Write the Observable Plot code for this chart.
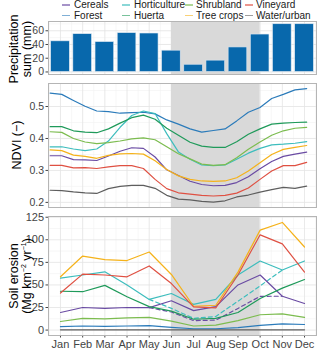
<!DOCTYPE html>
<html>
<head>
<meta charset="utf-8">
<script src="https://cdn.jsdelivr.net/npm/d3@7"></script>
<script src="https://cdn.jsdelivr.net/npm/@observablehq/plot@0.6"></script>
<style>
  body { margin:0; background:#fff; }
  #root { position:relative; width:320px; height:351px; font-family:"Liberation Sans", Arial, sans-serif; overflow:hidden; }
  .svgwrap { position:absolute; left:0; }
  .ytitle { position:absolute; transform:translate(-50%,-50%) rotate(-90deg); white-space:nowrap; text-align:center; font-size:12.5px; line-height:13px; color:#000; }
  .leg { position:absolute; font-size:10px; color:#1a1a1a; white-space:nowrap; line-height:10px; }
  .key { position:absolute; height:1.6px; width:8px; opacity:0.6; }
</style>
</head>
<body>
<div id="root"></div>
<script>
// ---------- data ----------
const months = ["Jan","Feb","Mar","Apr","May","Jun","Jul","Aug","Sep","Oct","Nov","Dec"];
const monthIdx = [1,2,3,4,5,6,7,8,9,10,11,12];
const halfMonths = [0.5,1.5,2.5,3.5,4.5,5.5,6.5,7.5,8.5,9.5,10.5,11.5,12.5];
const precipitation = [44.6,55,43.5,56.5,56,31,10.5,16.5,35.7,54.5,69.5,69.5];
const precipTicks = [0,20,40,60];
const precipMinor = [10,30,50,70];

const landCover = ["Cereals","Forest","Horticulture","Huerta","Shrubland","Tree crops","Vineyard","Water/urban"];
const colors = ["#6a4ba3","#2b7bba","#3dbdbd","#1f9a5a","#7cbc4f","#f5b21a","#df5042","#5e5e5e"];

// NDVI 16-day composites (day of year)
const ndviDoy = [1,17,33,49,65,81,97,113,129,145,161,177,193,209,225,241,257,273,289,305,321,337,353];
const ndviCereals      = [0.346,0.346,0.334,0.333,0.331,0.345,0.360,0.371,0.369,0.342,0.302,0.284,0.266,0.256,0.252,0.253,0.262,0.280,0.305,0.328,0.344,0.351,0.357];
const ndviForest       = [0.542,0.538,0.519,0.501,0.486,0.484,0.479,0.481,0.482,0.477,0.458,0.445,0.430,0.420,0.425,0.430,0.455,0.482,0.497,0.525,0.538,0.552,0.556];
const ndviHorticulture = [0.374,0.374,0.367,0.362,0.367,0.392,0.435,0.472,0.486,0.478,0.415,0.358,0.335,0.317,0.315,0.317,0.335,0.354,0.369,0.380,0.382,0.385,0.390];
const ndviHuerta       = [0.437,0.437,0.424,0.420,0.418,0.430,0.448,0.465,0.473,0.460,0.432,0.410,0.388,0.376,0.372,0.372,0.390,0.413,0.430,0.445,0.448,0.450,0.451];
const ndviShrubland    = [0.421,0.419,0.400,0.389,0.384,0.387,0.392,0.399,0.402,0.396,0.374,0.352,0.336,0.320,0.316,0.318,0.340,0.366,0.389,0.410,0.424,0.432,0.435];
const ndviTreeCrops    = [0.364,0.362,0.348,0.344,0.338,0.347,0.352,0.353,0.351,0.330,0.303,0.283,0.272,0.267,0.266,0.267,0.277,0.298,0.324,0.350,0.366,0.372,0.378];
const ndviVineyard     = [0.316,0.316,0.308,0.309,0.306,0.311,0.315,0.315,0.306,0.272,0.243,0.230,0.226,0.222,0.220,0.222,0.229,0.245,0.272,0.298,0.315,0.315,0.325];
const ndviWaterUrban   = [0.238,0.237,0.233,0.230,0.228,0.243,0.250,0.253,0.253,0.244,0.222,0.210,0.208,0.203,0.201,0.205,0.217,0.223,0.232,0.240,0.247,0.244,0.251];
const ndviTicks = [0.2,0.3,0.4,0.5];
const ndviMinor = [0.25,0.35,0.45,0.55];

const erosionCereals      = [19.5,25,24,25,24.8,32.5,21.5,26,50,61,37.5,29.5];
const erosionForest       = [3.8,4.5,4.2,4.5,5,3,1.5,1.5,2.8,5.2,6.8,6.2];
const erosionHorticulture = [57.5,61,64.5,50,34,40.5,28.5,34,61,76.5,66.5,76.5];
const erosionHuerta       = [43,42.5,49.5,37,26,21,12,13,19.5,35,46.5,56];
const erosionShrubland    = [9.5,13,12.5,13.5,14,10,4.5,5.5,10.5,17,18,14];
const erosionTreeCrops    = [59,82,78,77,86.5,61.6,26.4,27.5,64.2,110.7,119.2,92];
const erosionVineyard     = [41,62,61,59,71,51.5,25.7,24.5,61,105.5,95.5,64.2];
const erosionWaterUrban   = [0.3,0.3,0.3,0.3,0.3,0.3,0.3,0.3,0.3,0.3,0.3,0.3];
// dashed alternatives (May to Nov)
const dashedMonths = [5,6,7,8,9,10,11];
const erosionCerealsDashed      = [24.8,20,10.5,11,24,37.4,37.5];
const erosionHorticultureDashed = [34,24,13,15,32,49,66.5];
const erosionTicks = [0,25,50,75,100,125];
const erosionMinor = [12.5,37.5,62.5,87.5,112.5];

const shadeStart = 6, shadeEnd = 10; // Jun - Oct

// ---------- build tables ----------
const ndviSeries = [ndviCereals,ndviForest,ndviHorticulture,ndviHuerta,ndviShrubland,ndviTreeCrops,ndviVineyard,ndviWaterUrban];
const erosionSeries = [erosionCereals,erosionForest,erosionHorticulture,erosionHuerta,erosionShrubland,erosionTreeCrops,erosionVineyard,erosionWaterUrban];
const ndviData = [], erosionData = [], dashedData = [];
landCover.forEach((lc,k) => {
  ndviSeries[k].forEach((v,i) => ndviData.push({lc, x: 0.5 + ndviDoy[i]/30.44, v}));
  erosionSeries[k].forEach((v,i) => erosionData.push({lc, x: monthIdx[i], v}));
});
erosionCerealsDashed.forEach((v,i) => dashedData.push({lc:"Cereals", x: dashedMonths[i], v}));
erosionHorticultureDashed.forEach((v,i) => dashedData.push({lc:"Horticulture", x: dashedMonths[i], v}));
const precipData = precipitation.map((p,i) => ({m: monthIdx[i], p}));
const shade = [{start: shadeStart, end: shadeEnd}];

const xDomain = [0.46, 12.54];
const color = {domain: landCover, range: colors};
const style = {fontFamily: '"Liberation Sans", Arial, sans-serif', fontSize: "10.5px", color: "#444", background: "transparent", overflow: "visible"};
const gridMajor = "#e3e3e3", gridMinor = "#f1f1f1", frameColor = "#b5b5b5", shadeColor = "#d9d9d9";

function grid(minorY, majorY) {
  return [
    Plot.ruleX(halfMonths, {stroke: gridMinor, strokeWidth: 0.6}),
    Plot.ruleY(minorY, {stroke: gridMinor, strokeWidth: 0.6}),
    Plot.ruleX(monthIdx, {stroke: gridMajor, strokeWidth: 0.8}),
    Plot.ruleY(majorY, {stroke: gridMajor, strokeWidth: 0.8}),
    Plot.rect(shade, {x1: "start", x2: "end", fill: shadeColor})
  ];
}

// ---------- panel 1: precipitation ----------
const p1 = Plot.plot({
  width: 320, height: 59, marginLeft: 48, marginRight: 4, marginTop: 3, marginBottom: 3,
  style,
  x: {domain: xDomain, axis: null},
  y: {domain: [-3.7, 73.5], ticks: precipTicks, tickSize: 2.5, tickPadding: 2, label: null},
  marks: [
    ...grid(precipMinor, precipTicks),
    Plot.rectY(precipData, {x1: d => d.m - 0.42, x2: d => d.m + 0.42, y1: 0, y2: "p", fill: "#0868ac", stroke: "#dce6f0", strokeWidth: 0.6}),
    Plot.frame({stroke: frameColor})
  ]
});

// ---------- panel 2: NDVI ----------
const p2 = Plot.plot({
  width: 320, height: 130, marginLeft: 48, marginRight: 4, marginTop: 3, marginBottom: 3,
  style,
  x: {domain: xDomain, axis: null},
  y: {domain: [0.184, 0.572], ticks: ndviTicks, tickFormat: d3.format(".1f"), tickSize: 2.5, tickPadding: 2, label: null},
  color,
  marks: [
    ...grid(ndviMinor, ndviTicks),
    Plot.line(ndviData, {x: "x", y: "v", z: "lc", stroke: "lc", strokeWidth: 1.2}),
    Plot.frame({stroke: frameColor})
  ]
});

// ---------- panel 3: soil erosion ----------
const p3 = Plot.plot({
  width: 320, height: 138, marginLeft: 48, marginRight: 4, marginTop: 3, marginBottom: 16,
  style: {...style, fontSize: "11px"},
  x: {domain: xDomain, ticks: monthIdx, tickFormat: i => months[i - 1], tickSize: 2.5, tickPadding: 2, label: null},
  y: {domain: [-6, 125.8], ticks: erosionTicks, tickSize: 2.5, tickPadding: 2, label: null},
  color,
  marks: [
    ...grid(erosionMinor, erosionTicks),
    Plot.line(dashedData, {x: "x", y: "v", z: "lc", stroke: "lc", strokeWidth: 1.2, strokeDasharray: "4,3"}),
    Plot.line(erosionData, {x: "x", y: "v", z: "lc", stroke: "lc", strokeWidth: 1.2}),
    Plot.frame({stroke: frameColor})
  ]
});

// ---------- assemble ----------
const root = document.getElementById("root");
function place(svg, top) {
  const w = document.createElement("div");
  w.className = "svgwrap"; w.style.top = top + "px";
  w.appendChild(svg); root.appendChild(w);
}
place(p1, 18);
place(p2, 80);
place(p3, 213);

// legend (2 rows x 4 columns)
const legendOrder = [["Cereals","Horticulture","Shrubland","Vineyard"],["Forest","Huerta","Tree crops","Water/urban"]];
const keyX = [62, 122, 185, 245];
const textX = [74, 134, 196, 256];
const rowY = [5.2, 15.6];
legendOrder.forEach((row, r) => row.forEach((name, c) => {
  const k = document.createElement("div");
  k.className = "key";
  k.style.left = keyX[c] + "px"; k.style.top = (rowY[r] - 0.8) + "px";
  k.style.background = colors[landCover.indexOf(name)];
  root.appendChild(k);
  const t = document.createElement("div");
  t.className = "leg";
  t.style.left = textX[c] + "px"; t.style.top = (rowY[r] - 5) + "px";
  t.textContent = name;
  root.appendChild(t);
}));

// axis titles
function ytitle(html, cx, cy) {
  const d = document.createElement("div");
  d.className = "ytitle";
  d.style.left = cx + "px"; d.style.top = cy + "px";
  d.innerHTML = html;
  root.appendChild(d);
}
ytitle("Precipitation<br>sum (mm)", 21, 48.5);
ytitle("NDVI (\u2212)", 17, 145);
ytitle("Soil erosion<br>(Mg km<sup style='font-size:7px;line-height:0'>\u22122</sup> yr<sup style='font-size:7px;line-height:0'>\u22121</sup>)", 21, 275.5);
</script>
</body>
</html>
